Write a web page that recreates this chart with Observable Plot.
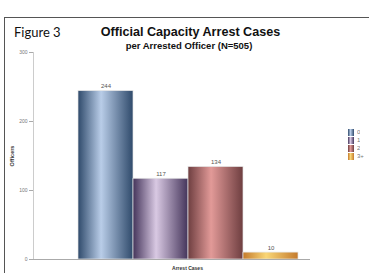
<!DOCTYPE html>
<html><head><meta charset="utf-8">
<script src="https://cdn.jsdelivr.net/npm/d3@7"></script>
<script src="https://cdn.jsdelivr.net/npm/@observablehq/plot@0.6"></script>
<style>
body{margin:0;background:#fff;}
#wrap{position:relative;width:369px;height:273px;overflow:hidden;font-family:"Liberation Sans",Arial,sans-serif;}
#border{position:absolute;left:4px;top:17px;width:380px;height:300px;border-top:1.5px solid #555;border-left:1.5px solid #555;}
.t{position:absolute;white-space:nowrap;color:#111;}
#fig{left:14px;top:24px;font-family:Lato,sans-serif;font-size:13px;}
#title{left:0;width:381px;text-align:center;top:25px;font-weight:bold;font-size:12.6px;}
#sub{left:0;width:378px;text-align:center;top:40px;font-weight:bold;font-size:9.5px;}
#xl{left:0;width:375px;text-align:center;top:265px;font-weight:bold;font-size:5px;color:#333;}
#leg{position:absolute;left:348px;top:128px;}
#chart{position:absolute;left:0;top:0;}
.lg-swatch{height:8px;padding-bottom:0 !important;line-height:8px;}
.lg-swatch svg{margin-right:3px !important;}
</style></head>
<body><div id="wrap">
<div id="chart"></div>
<div id="border"></div>
<div class="t" id="fig">Figure 3</div>
<div class="t" id="title">Official Capacity Arrest Cases</div>
<div class="t" id="sub">per Arrested Officer (N=505)</div>
<div class="t" id="xl">Arrest Cases</div>
<div id="leg"></div>
</div>
<script>
const categories = ["0", "1", "2", "3+"];
const officers = [244, 117, 134, 10];
const yTicks = [0, 100, 200, 300];
const edgeColors = ["#2f4a6b", "#44345a", "#6e3e40", "#c47a2c"];
const midColors = ["#b9cde8", "#d9c9e3", "#e29a98", "#f9d677"];

const data = categories.map((c, i) => ({cat: c, value: officers[i]}));
const gradIds = categories.map((c, i) => `url(#grad${i})`);

function defsMark() {
  const g = d3.create("svg:g");
  const defs = g.append("defs");
  categories.forEach((c, i) => {
    const lg = defs.append("linearGradient").attr("id", `grad${i}`).attr("x1", "0").attr("x2", "1").attr("y1", "0").attr("y2", "0");
    lg.append("stop").attr("offset", "0%").attr("stop-color", edgeColors[i]);
    lg.append("stop").attr("offset", "42%").attr("stop-color", midColors[i]);
    lg.append("stop").attr("offset", "100%").attr("stop-color", edgeColors[i]);
  });
  return g.node();
}
function yAxisLine(index, scales, values, dimensions) {
  const d = dimensions;
  const x = d.marginLeft + 0.5;
  return d3.create("svg:line")
    .attr("x1", x).attr("x2", x)
    .attr("y1", d.marginTop).attr("y2", d.height - d.marginBottom)
    .attr("stroke", "#ccc").attr("stroke-width", 1).node();
}

const chart = Plot.plot({
  width: 369,
  height: 273,
  marginTop: 52,
  marginBottom: 14,
  marginLeft: 33,
  marginRight: 59,
  style: {fontFamily: "Liberation Sans, Arial, sans-serif", background: "transparent"},
  x: {domain: categories, range: [77, 298], padding: 0, axis: null},
  y: {domain: [0, 300], ticks: yTicks, axis: null},
  color: {domain: categories, range: gradIds},
  marks: [
    defsMark,
    yAxisLine,
    Plot.axisY({ticks: yTicks, tickSize: 4, tickPadding: 2, fontSize: 5, color: "#777", stroke: "#aaa", label: null}),
    Plot.barY(data, {x: "cat", y: "value", fill: "cat", stroke: "#e4e4e4", strokeWidth: 0.7}),
    Plot.ruleY([0], {stroke: "#aaa", strokeWidth: 1}),
    Plot.text(data, {x: "cat", y: "value", text: d => String(d.value), dy: -5, fontSize: 6, fill: "#555"}),
    Plot.text(["Officers"], {frameAnchor: "left", rotate: -90, dx: -21, textAnchor: "middle", fontSize: 5.5, fontWeight: "bold", fill: "#333"})
  ]
});
document.getElementById("chart").appendChild(chart);

const leg = Plot.legend({
  color: {domain: categories, range: gradIds},
  legend: "swatches",
  columns: 1,
  swatchWidth: 6,
  swatchHeight: 7,
  className: "lg",
  style: {fontSize: "6px", color: "#777", fontFamily: "Liberation Sans, Arial, sans-serif", margin: "0"}
});
document.getElementById("leg").appendChild(leg);
</script>
</body></html>
